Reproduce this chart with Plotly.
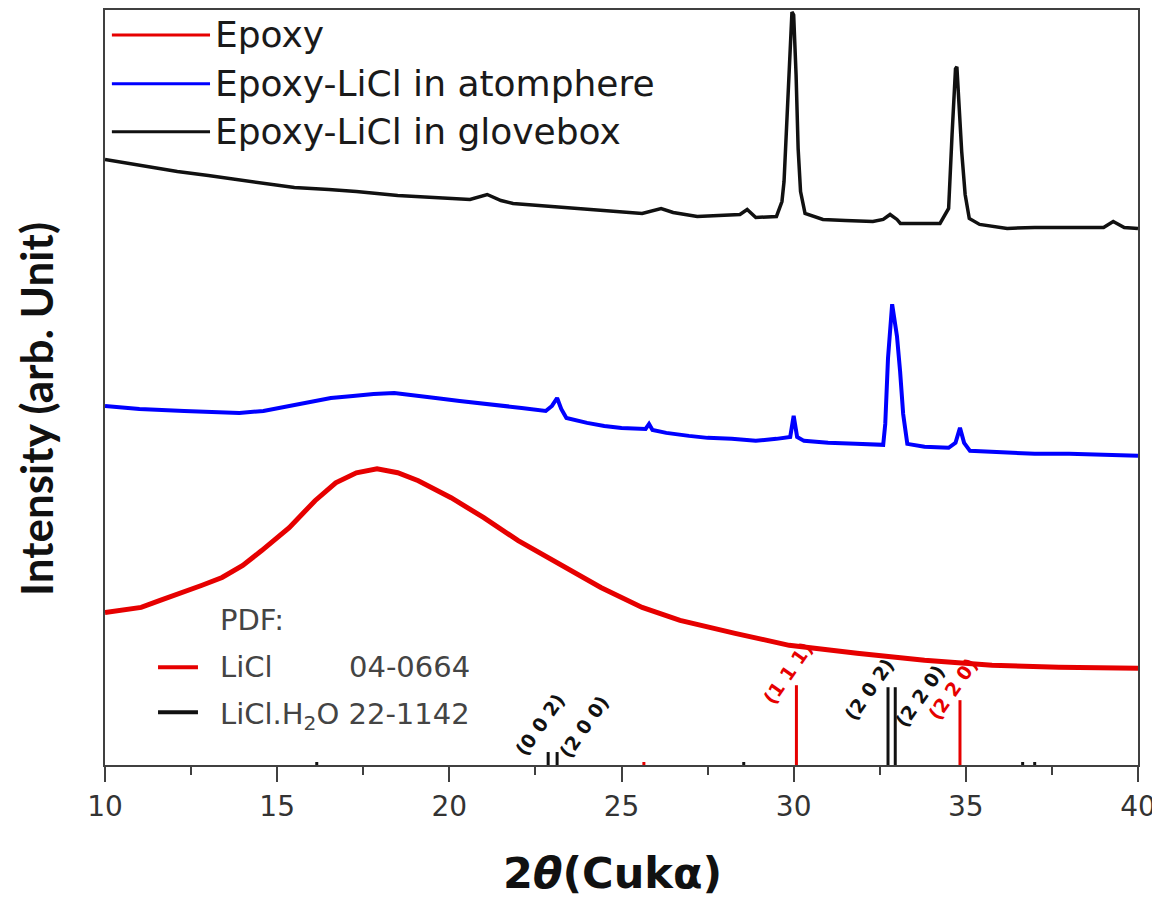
import plotly.graph_objects as go

# ---------------- data (intensity in arbitrary units) -------------
glove_x = [10, 11, 12.1, 13, 14, 14.7, 15.5, 16.5, 17.3, 18.5, 19.9, 20.6, 21.1, 21.5, 21.85,
           23, 23.8, 25, 25.6, 26.15, 26.5, 27.2, 28, 28.44, 28.65, 28.9, 29.5, 29.66, 29.72,
           29.8, 29.88, 29.95, 30.0, 30.07, 30.13, 30.2, 30.33, 30.85, 31.5, 32.3, 32.6, 32.8,
           33.0, 33.1, 34.25, 34.5, 34.6, 34.7, 34.74, 34.8, 34.88, 34.98, 35.1, 35.4, 36.2,
           37, 38.1, 39.0, 39.28, 39.6, 40]
glove_y = [607, 601, 595, 591, 586, 583, 579, 577, 575, 571, 568, 567, 572, 566, 563,
           560, 558, 555, 553, 558, 554, 550, 551, 552, 557, 549, 550, 565, 585,
           648, 715, 755, 752, 692, 618, 575, 553, 547, 546, 545, 547, 552,
           547, 543, 543, 558, 632, 698, 700, 665, 615, 572, 548, 542, 538,
           539, 539, 539, 545, 539, 538]

atmo_x = [10, 11, 12.3, 13.9, 14.6, 15.35, 16.0, 16.56, 17.2, 17.8, 18.4, 19.0, 19.6, 20.3,
          20.9, 21.5, 22.1, 22.8, 22.98, 23.13, 23.25, 23.4, 24.0, 24.5, 25.0, 25.7, 25.8,
          25.9, 26.3, 26.96, 27.5, 28.2, 28.9, 29.5, 29.9, 30.0, 30.1, 30.3, 31.0, 31.8,
          32.6, 32.66, 32.74, 32.86, 32.95, 33.0, 33.09, 33.18, 33.3, 33.8, 34.5, 34.7,
          34.83, 34.95, 35.12, 36.1, 37, 38, 39, 40]
atmo_y = [360, 357, 355, 353, 355, 360, 364, 368, 370, 372, 373, 371, 368, 365,
          363, 361, 358, 355, 360, 368, 357, 348, 343, 340, 338, 337, 342,
          336, 333, 330, 328, 327, 325, 327, 329, 350, 329, 325, 323, 322,
          321, 342, 408, 462, 438, 430, 395, 352, 322, 319, 318, 323,
          338, 323, 315, 313, 312, 312, 311, 310]

epoxy_x = [10, 10.5, 11.05, 11.6, 12.2, 12.8, 13.4, 14.0, 14.55, 15.35, 16.1, 16.7, 17.3,
           17.9, 18.5, 19.1, 20.05, 21.0, 22.0, 23.2, 24.4, 25.6, 26.7, 28.3, 29.87,
           31.84, 33.8, 35.76, 37.7, 40]
epoxy_y = [153, 155, 158, 165, 172, 180, 188, 200, 215, 238, 265, 283, 293,
           297, 293, 285, 268, 248, 225, 202, 178, 158, 145, 132, 120,
           112, 105, 100, 98, 97]

# PDF reference sticks
licl_x = [25.65, 30.08, 34.83]
licl_h = [3, 80, 65]
licl_hkl = ["", "(1 1 1)", "(2 2 0)"]
h2o_x = [16.15, 22.87, 23.13, 28.55, 32.74, 32.95, 36.65, 37.0]
h2o_h = [3, 13, 13, 3, 78, 78, 3, 3]
h2o_hkl = ["", "(0 0 2)", "(2 0 0)", "", "(2 0 2)", "(2 2 0)", "", ""]

x_ticks = [10, 15, 20, 25, 30, 35, 40]

series_names = ["Epoxy", "Epoxy-LiCl in atomphere", "Epoxy-LiCl in glovebox"]
RED = "#e60000"
BLUE = "#0000ff"
BLACK = "#111111"
series_colors = [RED, BLUE, BLACK]


def sticks(xs, hs):
    sx, sy = [], []
    for x, h in zip(xs, hs):
        sx += [x, x, None]
        sy += [0, h, None]
    return sx, sy


fig = go.Figure()
sx, sy = sticks(h2o_x, h2o_h)
fig.add_trace(go.Scatter(x=sx, y=sy, mode="lines", line=dict(color=BLACK, width=3),
                         showlegend=False, hoverinfo="skip"))
sx, sy = sticks(licl_x, licl_h)
fig.add_trace(go.Scatter(x=sx, y=sy, mode="lines", line=dict(color=RED, width=3),
                         showlegend=False, hoverinfo="skip"))

fig.add_trace(go.Scatter(x=epoxy_x, y=epoxy_y, mode="lines", line=dict(color=RED, width=5),
                         name=series_names[0], showlegend=False))
fig.add_trace(go.Scatter(x=atmo_x, y=atmo_y, mode="lines", line=dict(color=BLUE, width=4),
                         name=series_names[1], showlegend=False))
fig.add_trace(go.Scatter(x=glove_x, y=glove_y, mode="lines", line=dict(color=BLACK, width=3.5),
                         name=series_names[2], showlegend=False))

annotations = []
shapes = []

# custom legend (top-left)
leg_y = [732, 683, 635]
for name, col, yy in zip(series_names, series_colors, leg_y):
    shapes.append(dict(type="line", xref="x", yref="y", x0=10.2, x1=13.05, y0=yy, y1=yy,
                       line=dict(color=col, width=3)))
    annotations.append(dict(x=13.15, y=yy, xref="x", yref="y", text=name, showarrow=False,
                            xanchor="left", yanchor="middle",
                            font=dict(family="DejaVu Sans", size=36, color="#1a1a1a")))

# PDF legend
GRAY = "#444444"
PDF_SIZE = 29
annotations.append(dict(x=13.28, y=145, xref="x", yref="y", text="PDF:", showarrow=False,
                        xanchor="left", yanchor="middle",
                        font=dict(family="DejaVu Sans", size=PDF_SIZE, color=GRAY)))
shapes.append(dict(type="line", xref="x", yref="y", x0=11.54, x1=12.7, y0=98, y1=98,
                   line=dict(color=RED, width=4)))
annotations.append(dict(x=13.28, y=98, xref="x", yref="y", text="LiCl", showarrow=False,
                        xanchor="left", yanchor="middle",
                        font=dict(family="DejaVu Sans", size=PDF_SIZE, color=GRAY)))
annotations.append(dict(x=20.66, y=98, xref="x", yref="y", text="04-0664", showarrow=False,
                        xanchor="right", yanchor="middle",
                        font=dict(family="DejaVu Sans", size=PDF_SIZE, color=GRAY)))
shapes.append(dict(type="line", xref="x", yref="y", x0=11.54, x1=12.7, y0=53, y1=53,
                   line=dict(color=BLACK, width=4)))
annotations.append(dict(x=13.28, y=49, xref="x", yref="y",
                        text="LiCl.H<sub>2</sub>O 22-1142", showarrow=False,
                        xanchor="left", yanchor="middle",
                        font=dict(family="DejaVu Sans", size=PDF_SIZE, color=GRAY)))

# hkl labels
hkl_pos = {
    "(0 0 2)": (22.62, 40, BLACK),
    "(2 0 0)": (23.9, 38, BLACK),
    "(2 0 2)": (32.2, 76, BLACK),
    "(2 2 0)": (33.67, 69, BLACK),
}
for lab in h2o_hkl:
    if lab:
        x, y, c = hkl_pos[lab]
        annotations.append(dict(x=x, y=y, xref="x", yref="y", text="<b>%s</b>" % lab,
                                showarrow=False, textangle=-55,
                                font=dict(family="DejaVu Sans", size=19, color=c)))
red_pos = {"(1 1 1)": (29.83, 92), "(2 2 0)": (34.62, 76)}
for lab in licl_hkl:
    if lab:
        x, y = red_pos[lab]
        annotations.append(dict(x=x, y=y, xref="x", yref="y", text="<b>%s</b>" % lab,
                                showarrow=False, textangle=-55,
                                font=dict(family="DejaVu Sans", size=19, color=RED)))

# layout geometry (compensating the page's 8px body margin)
W, H = 1152, 895
ML, MR, MT, MB = 97, 22, 0, 138
PW = W - ML - MR
PH = H - MT - MB


def px_to_paper(px, py):
    # reference picture pixels -> paper coords (plot area spans 105..1138, 8..765)
    return (px - 105) / PW, (765 - py) / PH


tx, ty = px_to_paper(612, 873)
annotations.append(dict(x=tx, y=ty, xref="paper", yref="paper",
                        text="<b>2<i>θ</i>(Cukα)</b>", showarrow=False,
                        xanchor="center", yanchor="middle",
                        font=dict(family="DejaVu Sans", size=43, color="#111111")))
tx, ty = px_to_paper(36, 408)
annotations.append(dict(x=tx, y=ty, xref="paper", yref="paper",
                        text="<b>Intensity (arb. Unit)</b>", showarrow=False, textangle=-90,
                        xanchor="center", yanchor="middle",
                        font=dict(family="Lato", size=44, color="#111111")))

AX = "#404040"
fig.update_layout(
    width=W, height=H,
    margin=dict(l=ML, r=MR, t=MT, b=MB),
    paper_bgcolor="white", plot_bgcolor="white",
    showlegend=False,
    shapes=shapes, annotations=annotations,
    xaxis=dict(range=[10, 40], tickvals=x_ticks, ticktext=[str(t) for t in x_ticks],
               ticks="outside", ticklen=15, tickwidth=2, tickcolor=AX,
               minor=dict(dtick=2.5, tick0=10, ticks="outside", ticklen=8, tickwidth=2,
                          tickcolor=AX, showgrid=False),
               showline=True, linecolor=AX, linewidth=2, mirror=True,
               showgrid=False, zeroline=False,
               tickfont=dict(family="DejaVu Sans", size=28, color="#333333")),
    yaxis=dict(range=[0, 757], showticklabels=False, ticks="",
               showline=True, linecolor=AX, linewidth=2, mirror=True,
               showgrid=False, zeroline=False),
)

fig.write_html("out.html")
